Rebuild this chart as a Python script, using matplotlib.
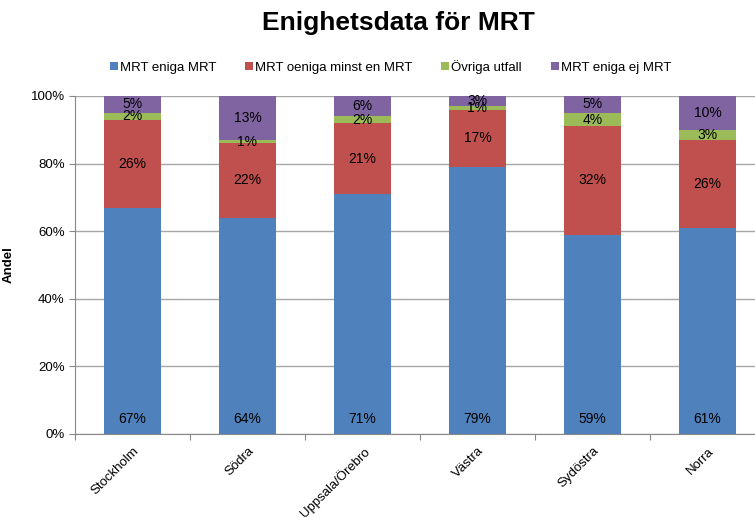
import matplotlib.pyplot as plt
import numpy as np
from matplotlib.ticker import PercentFormatter

regions = ['Stockholm', 'Södra', 'Uppsala/Örebro', 'Västra', 'Sydöstra', 'Norra']
eniga = [67, 64, 71, 79, 59, 61]
oeniga = [26, 22, 21, 17, 32, 26]
ovriga = [2, 1, 2, 1, 4, 3]
ej_eniga = [5, 13, 6, 3, 5, 10]

series = [
    ('MRT eniga MRT', eniga, '#4F81BD'),
    ('MRT oeniga minst en MRT', oeniga, '#C0504D'),
    ('Övriga utfall', ovriga, '#9BBB59'),
    ('MRT eniga ej MRT', ej_eniga, '#8064A2'),
]

plt.rcParams['font.family'] = ['Liberation Sans', 'DejaVu Sans']

fig = plt.figure(figsize=(7.55, 5.17), dpi=100)
ax = fig.add_axes([75 / 755, 83 / 517, 690 / 755, 338 / 517])

x = np.arange(len(regions))
bottom = np.zeros(len(regions))
for i, (name, vals, color) in enumerate(series):
    vals = np.array(vals, dtype=float)
    ax.bar(x, vals, 0.5, bottom=bottom, color=color, label=name, zorder=2)
    for xi, b, v in zip(x, bottom, vals):
        if i == 0:
            y = 4.5
        else:
            y = b + v / 2
        ax.text(xi, y, f'{int(v)}%', ha='center', va='center', fontsize=10, zorder=3)
    bottom += vals

ax.set_xlim(-0.5, len(regions) - 0.5)
ax.set_ylim(0, 100)
ax.yaxis.set_major_formatter(PercentFormatter(decimals=0))
ax.set_yticks(range(0, 101, 20))
ax.yaxis.grid(True, color='#A6A6A6', linewidth=1, zorder=0)
ax.set_axisbelow(True)

# category ticks sit between the bars, labels at the bar centres
ax.set_xticks(np.arange(-0.5, len(regions), 1.0))
ax.set_xticklabels([])
ax.set_xticks(x, minor=True)
ax.set_xticklabels(regions, minor=True, rotation=45, ha='right', rotation_mode='anchor', fontsize=9.5)
ax.tick_params(axis='x', which='minor', length=0, pad=8)
ax.tick_params(axis='x', which='major', length=4, color='#888888')
ax.tick_params(axis='y', length=4, color='#888888', labelsize=9.5)

for side in ['top', 'right']:
    ax.spines[side].set_visible(False)
for side in ['left', 'bottom']:
    ax.spines[side].set_color('#888888')

ax.set_ylabel('Andel', fontsize=9.5, fontweight='bold')
ax.yaxis.set_label_coords(-0.087, 0.5)

fig.suptitle('Enighetsdata för MRT', fontsize=19, fontweight='bold', x=0.527, y=0.978)
fig.legend(loc='center', bbox_to_anchor=(0.517, 0.871), ncol=4, frameon=False,
           fontsize=9.5, handlelength=0.6, handleheight=0.6, handletextpad=0.15,
           columnspacing=2.2)

fig.savefig('out.png', dpi=100)
